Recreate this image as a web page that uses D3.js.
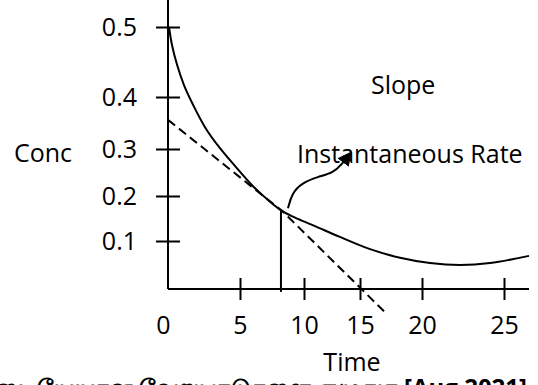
<!DOCTYPE html>
<html>
<head>
<meta charset="utf-8">
<script src="https://cdn.jsdelivr.net/npm/d3@7"></script>
<style>
  html, body { margin: 0; padding: 0; background: #fff; }
  svg { display: block; font-family: "Open Sans", sans-serif; }
  .axis text { font-size: 25px; fill: #000; font-family: "Open Sans", sans-serif; }
  .axis line { stroke: #000; stroke-width: 2px; }
  .label { font-size: 25px; fill: #000; }
</style>
</head>
<body>
<div id="chart"></div>
<script>
const width = 538;
const height = 385;

// Tick values
const xTicks = [0, 5, 10, 15, 20, 25];
const yTicks = [0.1, 0.2, 0.3, 0.4, 0.5];

// Concentration curve (time, conc)
const times = [0.07, 0.28, 0.63, 1.11, 1.74, 2.57, 3.54, 4.65, 5.94, 7.19, 8.28, 9.53, 10.98, 13.21, 15.81, 18.23, 20.49, 22.32, 24.15, 27];
const conc = [0.5, 0.474, 0.446, 0.417, 0.385, 0.342, 0.304, 0.264, 0.223, 0.191, 0.167, 0.149, 0.133, 0.109, 0.083, 0.065, 0.054, 0.05, 0.054, 0.069];

// Tangent (dashed) line
const tangentTimes = [0, 8.28, 17.0];
const tangentConc = [0.356, 0.167, -0.048];

// Drop line from the tangent point to the time axis
const dropTimes = [8.2, 8.2];
const dropConc = [0.167, -0.006];

// Curved arrow pointing at the label
const arrowTimes = [8.75, 9.06, 9.84, 11.25, 12.59, 13.39, 14.1];
const arrowConc = [0.173, 0.206, 0.228, 0.241, 0.249, 0.268, 0.29];

const zip = (xs, ys) => xs.map((t, i) => ({t, c: ys[i]}));

// The hand-drawn axes are not evenly spaced, so use piecewise scales.
const x = d3.scaleLinear()
  .domain([0, 5, 10, 15, 20, 25, 27])
  .range([168, 240, 304, 360, 422, 504, 529]);

const y = d3.scaleLinear()
  .domain([0, 0.1, 0.2, 0.3, 0.4, 0.5, 0.54])
  .range([289, 241, 196, 149, 97, 27, 0]);

const svg = d3.select('#chart').append('svg')
  .attr('width', width)
  .attr('height', height);

svg.append('defs').append('marker')
  .attr('id', 'head')
  .attr('viewBox', '0 0 10 10')
  .attr('refX', 8)
  .attr('refY', 5)
  .attr('markerWidth', 14)
  .attr('markerHeight', 14)
  .attr('markerUnits', 'userSpaceOnUse')
  .attr('orient', 'auto')
  .append('path')
    .attr('d', 'M0,0L10,5L0,10z')
    .attr('fill', '#000');

// y axis
const yAxis = svg.append('g')
  .attr('class', 'axis')
  .attr('transform', `translate(${x(0)},0)`)
  .call(d3.axisLeft(y).tickValues(yTicks).tickSize(12).tickPadding(19).tickFormat(d3.format('.1f')));
yAxis.select('.domain').remove();
yAxis.selectAll('.tick line').attr('x1', 12);

// x axis
const xAxis = svg.append('g')
  .attr('class', 'axis')
  .attr('transform', `translate(0,${y(0)})`)
  .call(d3.axisBottom(x).tickValues(xTicks).tickSize(11).tickPadding(16));
xAxis.select('.domain').remove();
xAxis.selectAll('.tick line').attr('y1', -11);
const zeroTick = xAxis.selectAll('.tick').filter(d => d === 0);
zeroTick.select('line').remove();
zeroTick.select('text').attr('dx', -5);

// axis lines
svg.append('line')
  .attr('x1', x(0)).attr('x2', x(0))
  .attr('y1', y(0)).attr('y2', y(0.54))
  .attr('stroke', '#000').attr('stroke-width', 2);
svg.append('line')
  .attr('x1', x(0)).attr('x2', x(27))
  .attr('y1', y(0)).attr('y2', y(0))
  .attr('stroke', '#000').attr('stroke-width', 2);

const line = d3.line()
  .x(d => x(d.t))
  .y(d => y(d.c));

svg.append('path')
  .datum(zip(times, conc))
  .attr('fill', 'none')
  .attr('stroke', '#000')
  .attr('stroke-width', 2)
  .attr('d', line.curve(d3.curveCatmullRom.alpha(0.5)));

svg.append('path')
  .datum(zip(tangentTimes, tangentConc))
  .attr('fill', 'none')
  .attr('stroke', '#000')
  .attr('stroke-width', 2)
  .attr('stroke-dasharray', '9,5')
  .attr('d', line.curve(d3.curveLinear));

svg.append('path')
  .datum(zip(dropTimes, dropConc))
  .attr('fill', 'none')
  .attr('stroke', '#000')
  .attr('stroke-width', 2)
  .attr('d', line.curve(d3.curveLinear));

svg.append('path')
  .datum(zip(arrowTimes, arrowConc))
  .attr('fill', 'none')
  .attr('stroke', '#000')
  .attr('stroke-width', 2)
  .attr('marker-end', 'url(#head)')
  .attr('d', line.curve(d3.curveBasis));

// labels
svg.append('text').attr('class', 'label')
  .attr('x', 14).attr('y', 162).text('Conc');
svg.append('text').attr('class', 'label')
  .attr('x', 371).attr('y', 94).text('Slope');
svg.append('text').attr('class', 'label')
  .attr('x', 297).attr('y', 163).text('Instantaneous Rate');
svg.append('text').attr('class', 'label')
  .attr('x', 352).attr('y', 371).attr('text-anchor', 'middle').text('Time');
svg.append('text')
  .attr('x', 527).attr('y', 396)
  .attr('text-anchor', 'end')
  .style('font-size', '24px')
  .style('font-weight', 'bold')
  .text('இடையேயான வேறுபாடுகளை எழுதுக [Aug 2021]');
</script>
</body>
</html>
